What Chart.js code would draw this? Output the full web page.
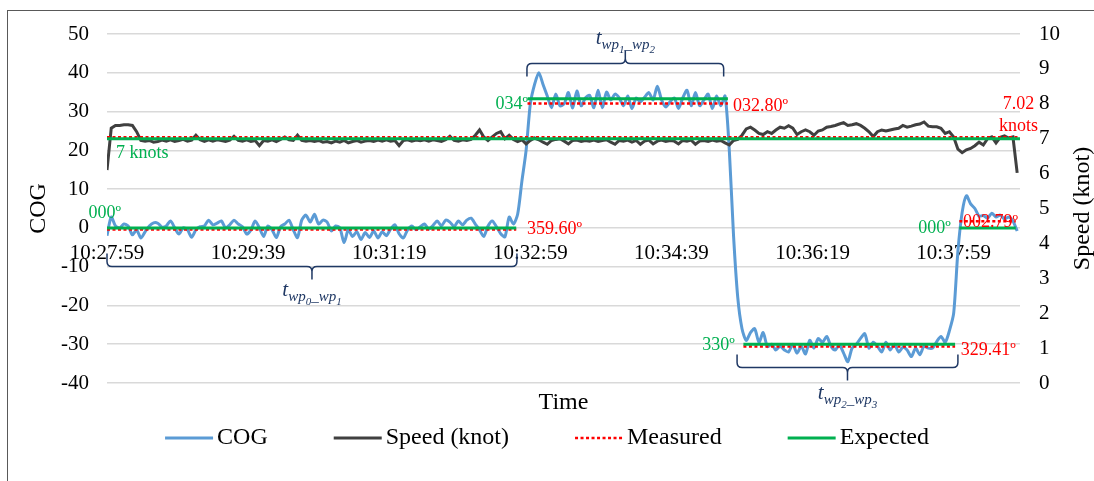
<!DOCTYPE html>
<html>
<head>
<meta charset="utf-8">
<script src="https://cdn.jsdelivr.net/npm/chart.js@4.4.1/dist/chart.umd.min.js"></script>
<style>
  html, body { margin: 0; padding: 0; background: #fff; }
</style>
</head>
<body>
<canvas id="cogChart" width="1094" height="481"></canvas>
<script>
// ---------------------------------------------------------------
// data (one sample every 3 s, starting 10:27:59)
// ---------------------------------------------------------------
const sampleStep = 3;
const timeLabels = ['10:27:59', '10:29:39', '10:31:19', '10:32:59', '10:34:39', '10:36:19', '10:37:59'];

const cogValues = [
  -2, 2.8, 0.5, 0, 1, 0.5, -1.8, -0.5, -2.6, -1,
  0.5, 1.3, 1.2, 0.2, 0.5, 1.8, 0, -1.6, 0, -0.5,
  -2.4, -0.5, 0.3, 0.5, 2, 0.8, 1.2, 1.8, 0, 0.8,
  2, 1, 0.3, -1.6, -0.5, 1.8, 0, -2.2, 0.5, -0.5,
  -2.5, 0.3, 1, 2, -0.5, -2.5, 2, 3.3, 1.5, 3.5,
  1, 2, 1.5, -0.8, 0.5, 0, -3.8, -0.5, -2.2, -1,
  -3, -1.2, -2.5, -0.8, -2.6, -1, -2, -0.3, 0.8, -1.5,
  -2.6, -0.5, 0.5, -0.5, 0.3, 1, -0.3, 0.6, 1.8, 0.5,
  2, 1.5, 0.3, 1.8, 0.8, 2, 2.5, 1, -0.5, -2.2,
  0.5, 1.8, 0.3, -1.5, -2.3, 2.8, 1, 3.5, 12, 20,
  32, 37, 40, 37, 34, 31, 34.5, 31.5, 32, 34.9,
  30.9, 35.3, 31.5, 33.5, 34.2, 31, 35.5, 31, 35, 33,
  34.5, 33.5, 31.5, 34, 30.8, 33.5, 32.5, 33.7, 34.9, 33,
  36.5, 33, 31.2, 32.5, 33.5, 30.8, 33.5, 35.5, 31.5, 34.9,
  31.5, 33, 34.5, 30.8, 34, 31.5, 34, 20, -2, -18,
  -26, -29, -27, -26, -29.5, -27, -30.6, -30, -31.5, -30.5,
  -31.5, -32, -30, -32.3, -30.5, -32.5, -29, -31, -28.5, -29.5,
  -28, -30.5, -31.5, -30.2, -32.3, -34.5, -31, -30, -28.5, -27.3,
  -31, -29.5, -30.5, -32, -29.5, -31.5, -30, -32, -30.8, -31.5,
  -33.2, -31, -32.7, -30.5, -31, -31, -29.3, -28, -29.5, -26.5,
  -22, -6, 4, 8.3, 6.2, 5, 3, 3.2, 2.5, 3.8,
  2.8, 3.3, 2.3, 2.8, 1.8, -0.8
];

const speedValues = [
  6.1, 7.3, 7.38, 7.38, 7.4, 7.4, 7.38, 7.2, 6.95, 6.93,
  6.95, 6.9, 6.92, 6.96, 6.93, 6.97, 6.92, 6.95, 6.98, 6.93,
  6.96, 7.1, 6.97, 6.92, 6.97, 6.93, 6.97, 6.95, 6.92, 6.96,
  7.07, 6.95, 6.93, 6.97, 6.92, 6.95, 6.8, 6.95, 6.93, 6.97,
  6.92, 6.98, 7.05, 6.97, 6.95, 7.1, 6.95, 6.93, 6.95, 6.92,
  6.95, 6.9, 6.92, 6.88, 6.93, 6.9, 6.95, 6.88, 6.92, 6.95,
  6.9, 6.93, 6.95, 6.92, 6.96, 6.93, 6.97, 6.93, 6.95, 6.8,
  6.95, 6.97, 6.93, 6.96, 6.94, 6.97, 6.93, 6.97, 6.95, 6.92,
  6.97, 7.07, 6.95, 6.93, 6.97, 6.95, 6.98, 7.1, 7.25, 7.05,
  6.95, 7.05, 7.15, 7.2, 7.0, 7.1, 6.98, 6.92, 6.97, 6.85,
  6.95, 7.02, 6.97, 6.9, 6.84, 6.95, 6.98, 7.0, 6.93, 6.85,
  6.95, 6.96, 6.92, 6.95, 6.93, 6.96, 6.92, 6.95, 6.97, 6.9,
  6.84, 6.95, 6.93, 6.96, 6.9, 6.95, 6.84, 6.93, 6.96, 6.85,
  6.93, 6.96, 6.92, 6.95, 6.93, 6.85, 6.95, 6.93, 6.96, 6.84,
  6.93, 6.95, 6.92, 6.96, 6.93, 6.95, 6.88, 6.82, 6.95, 6.98,
  7.1, 7.28, 7.33, 7.25, 7.15, 7.12, 7.2, 7.15, 7.25, 7.33,
  7.3, 7.37, 7.3, 7.12, 7.2, 7.25, 7.2, 7.1, 7.22, 7.25,
  7.33, 7.35, 7.38, 7.42, 7.46, 7.38, 7.4, 7.43, 7.38, 7.3,
  7.2, 7.06, 7.2, 7.25, 7.22, 7.25, 7.28, 7.3, 7.38, 7.33,
  7.36, 7.4, 7.42, 7.48, 7.36, 7.34, 7.34, 7.3, 7.15, 7.2,
  7.05, 6.7, 6.6, 6.68, 6.72, 6.8, 6.9, 6.82, 7.0, 7.05,
  6.88, 7.04, 7.08, 7.02, 7.05, 6.02
];

// heading legs (seconds from start) with expected / measured COG
const legStart = [0, 298, 451, 604];
const legEnd = [290, 440, 601, 644];
const expectedCog = [0, 33.3, -30, 0];
const measuredCog = [-0.4, 32.1, -30.6, 1.7];

const timeEnd = 647;
const expectedSpeed = 7;
const measuredSpeed = 7.04;

// colours
const colorCog = '#5B9BD5';
const colorSpeed = '#404040';
const colorRed = '#FF0000';
const colorGreen = '#00B050';
const colorNavy = '#1F3864';
const serif = "'Liberation Serif', 'Times New Roman', serif";

// text labels anchored in data units
const valueLabels = [
  { text: '000º', t: 10, v: 3.8, axis: 'y', align: 'right', color: colorGreen },
  { text: '7 knots', t: 6.4, v: 6.59, axis: 'y1', align: 'left', color: colorGreen },
  { text: '359.60º', t: 297.6, v: -0.3, axis: 'y', align: 'left', color: colorRed },
  { text: '034º', t: 298.4, v: 32, axis: 'y', align: 'right', color: colorGreen },
  { text: '032.80º', t: 443.6, v: 31.4, axis: 'y', align: 'left', color: colorRed },
  { text: '7.02', t: 646, v: 7.98, axis: 'y1', align: 'center', color: colorRed },
  { text: 'knots', t: 646, v: 7.36, axis: 'y1', align: 'center', color: colorRed },
  { text: '000º', t: 598, v: 0, axis: 'y', align: 'right', color: colorGreen },
  { text: '002.79º', t: 606.6, v: 1.5, axis: 'y', align: 'left', color: colorRed },
  { text: '330º', t: 445, v: -30.2, axis: 'y', align: 'right', color: colorGreen },
  { text: '329.41º', t: 605, v: -31.5, axis: 'y', align: 'left', color: colorRed }
];

// braces marking the legs: from/to in seconds, level on COG axis
const braces = [
  { from: 297.6, to: 437, level: 42.5, dir: -1, wp: ['1', '2'], labelV: 49 },
  { from: 0, to: 290.5, level: -9.8, dir: 1, wp: ['0', '1'], labelV: -16 },
  { from: 446.5, to: 603, level: -35.9, dir: 1, wp: ['2', '3'], labelV: -42.7 }
];

// ---------------------------------------------------------------
// build datasets
// ---------------------------------------------------------------
function legPoints(values) {
  const pts = [];
  values.forEach((v, k) => {
    pts.push({ x: legStart[k], y: v }, { x: legEnd[k], y: v }, { x: legEnd[k], y: null });
  });
  return pts;
}

const cogPoints = cogValues.map((v, i) => ({ x: i * sampleStep, y: v }));
const speedPoints = speedValues.map((v, i) => ({ x: i * sampleStep, y: v }));

const dash = [3, 2.5];
const datasets = [
  { label: 'COG', data: cogPoints, yAxisID: 'y', borderColor: colorCog, borderWidth: 3, tension: 0.25, order: 6, showInLegend: true },
  { label: 'Speed (knot)', data: speedPoints, yAxisID: 'y1', borderColor: colorSpeed, borderWidth: 3, tension: 0, order: 5, showInLegend: true },
  { label: 'Measured', data: legPoints(measuredCog), yAxisID: 'y', borderColor: colorRed, borderWidth: 2.5, borderDash: dash, order: 3, showInLegend: true },
  { label: 'Expected', data: legPoints(expectedCog), yAxisID: 'y', borderColor: colorGreen, borderWidth: 3, order: 1, showInLegend: true },
  { label: 'Measured speed', data: [{ x: 0, y: measuredSpeed }, { x: timeEnd, y: measuredSpeed }], yAxisID: 'y1', borderColor: colorRed, borderWidth: 2.5, borderDash: dash, order: 2 },
  { label: 'Expected speed', data: [{ x: 0, y: expectedSpeed }, { x: timeEnd, y: expectedSpeed }], yAxisID: 'y1', borderColor: colorGreen, borderWidth: 3, order: 1 }
];
datasets.forEach(d => { d.pointRadius = 0; d.fill = false; });

// ---------------------------------------------------------------
// extra drawing: frame, labels, braces, legend, axis titles
// ---------------------------------------------------------------
function drawSubLabel(ctx, cx, cy, wp) {
  const parts = [
    ['t', 21, 0], ['wp', 15, 5], [wp[0], 11, 9], ['_', 15, 5], ['wp', 15, 5], [wp[1], 11, 9]
  ];
  let total = 0;
  parts.forEach(p => { ctx.font = 'italic ' + p[1] + 'px ' + serif; p.push(ctx.measureText(p[0]).width); total += p[3]; });
  let x = cx - total / 2;
  const base = cy + 6;
  ctx.fillStyle = colorNavy;
  ctx.textAlign = 'left';
  ctx.textBaseline = 'alphabetic';
  parts.forEach(p => {
    ctx.font = 'italic ' + p[1] + 'px ' + serif;
    ctx.fillText(p[0], x, base + p[2]);
    x += p[3];
  });
}

function drawBrace(ctx, x1, x2, y, dir) {
  const r = 5, arm = 13, tip = 13;
  const xm = (x1 + x2) / 2;
  ctx.beginPath();
  ctx.moveTo(x1, y - dir * arm);
  ctx.lineTo(x1, y - dir * r);
  ctx.quadraticCurveTo(x1, y, x1 + r, y);
  ctx.lineTo(xm - r, y);
  ctx.quadraticCurveTo(xm, y, xm, y + dir * r);
  ctx.lineTo(xm, y + dir * tip);
  ctx.moveTo(xm, y + dir * r);
  ctx.quadraticCurveTo(xm, y, xm + r, y);
  ctx.lineTo(x2 - r, y);
  ctx.quadraticCurveTo(x2, y, x2, y - dir * r);
  ctx.lineTo(x2, y - dir * arm);
  ctx.stroke();
}

const decorations = {
  id: 'decorations',
  beforeDraw(chart) {
    const ctx = chart.ctx;
    ctx.save();
    ctx.fillStyle = '#fff';
    ctx.fillRect(0, 0, chart.width, chart.height);
    ctx.strokeStyle = '#595959';
    ctx.lineWidth = 1;
    ctx.strokeRect(7.5, 10.5, chart.width + 20, chart.height + 20);
    ctx.restore();
  },
  afterDraw(chart) {
    const { ctx, chartArea, scales } = chart;
    const sx = scales.x;
    ctx.save();

    // value labels
    ctx.font = '18px ' + serif;
    ctx.textBaseline = 'middle';
    valueLabels.forEach(l => {
      ctx.fillStyle = l.color;
      ctx.textAlign = l.align;
      ctx.fillText(l.text, sx.getPixelForValue(l.t), scales[l.axis].getPixelForValue(l.v));
    });

    // braces and their labels
    ctx.strokeStyle = colorNavy;
    ctx.lineWidth = 1.5;
    braces.forEach(b => {
      const x1 = sx.getPixelForValue(b.from);
      const x2 = sx.getPixelForValue(b.to);
      const y = Math.round(scales.y.getPixelForValue(b.level)) + 0.5;
      drawBrace(ctx, x1, x2, y, b.dir);
      drawSubLabel(ctx, (x1 + x2) / 2, scales.y.getPixelForValue(b.labelV), b.wp);
    });

    // axis titles
    ctx.fillStyle = '#000';
    ctx.font = '24px ' + serif;
    ctx.textAlign = 'center';
    ctx.textBaseline = 'middle';
    ctx.fillText('Time', (chartArea.left + chartArea.right) / 2, chartArea.bottom + 20);
    ctx.save();
    ctx.translate(1083, (chartArea.top + chartArea.bottom) / 2);
    ctx.rotate(-Math.PI / 2);
    ctx.fillText('Speed (knot)', 0, 0);
    ctx.restore();

    // legend
    const items = chart.data.datasets.filter(d => d.showInLegend);
    const lineLen = 48, textGap = 4, itemGap = 66;
    ctx.font = '24px ' + serif;
    const widths = items.map(d => lineLen + textGap + ctx.measureText(d.label).width);
    const total = widths.reduce((a, b) => a + b, 0) + itemGap * (items.length - 1);
    let x = chart.width / 2 - total / 2;
    const ly = chartArea.bottom + 55;
    items.forEach((d, k) => {
      ctx.strokeStyle = d.borderColor;
      ctx.lineWidth = d.borderWidth;
      ctx.setLineDash(d.borderDash || []);
      ctx.beginPath();
      ctx.moveTo(x, ly);
      ctx.lineTo(x + lineLen, ly);
      ctx.stroke();
      ctx.setLineDash([]);
      ctx.fillStyle = '#000';
      ctx.textAlign = 'left';
      ctx.fillText(d.label, x + lineLen + textGap, ly);
      x += widths[k] + itemGap;
    });
    ctx.restore();
  }
};

// ---------------------------------------------------------------
// chart
// ---------------------------------------------------------------
Chart.defaults.font.family = serif;
Chart.defaults.color = '#000';

new Chart(document.getElementById('cogChart').getContext('2d'), {
  type: 'line',
  data: { datasets },
  options: {
    responsive: false,
    animation: false,
    devicePixelRatio: 1,
    layout: { padding: { left: 0, right: 0, top: 34, bottom: 98 } },
    plugins: {
      legend: { display: false },
      tooltip: { enabled: false }
    },
    scales: {
      x: {
        type: 'linear',
        min: 0,
        max: timeEnd,
        position: { y: 0 },
        grid: { display: false, drawTicks: false },
        border: { display: false },
        ticks: {
          stepSize: 100,
          autoSkip: false,
          maxRotation: 0,
          includeBounds: false,
          padding: 13,
          font: { size: 21 },
          callback: v => timeLabels[v / 100]
        }
      },
      y: {
        position: 'left',
        min: -40,
        max: 50,
        afterFit: s => { s.width = 107; },
        grid: { color: '#D9D9D9', lineWidth: 1.5, drawTicks: false },
        border: { display: false },
        ticks: { stepSize: 10, padding: 18, font: { size: 21 }, callback: v => String(v) },
        title: { display: true, text: 'COG', font: { size: 24 }, padding: { top: 24, bottom: 0 } }
      },
      y1: {
        position: 'right',
        min: 0,
        max: 10,
        afterFit: s => { s.width = 74; },
        grid: { display: false, drawTicks: false },
        border: { display: false },
        ticks: { stepSize: 1, padding: 19, font: { size: 21 } }
      }
    }
  },
  plugins: [decorations]
});
</script>
</body>
</html>
